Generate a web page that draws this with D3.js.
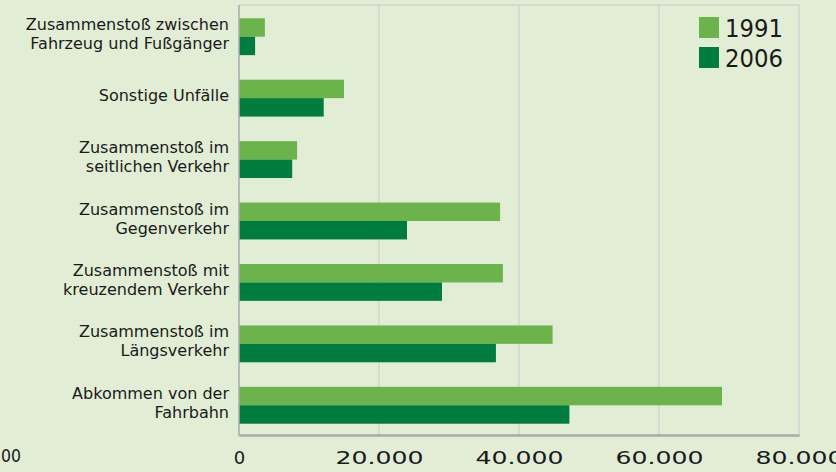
<!DOCTYPE html>
<html>
<head>
<meta charset="utf-8">
<script src="https://cdn.jsdelivr.net/npm/d3@7"></script>
<style>
  body { margin: 0; background: #e2edd5; }
  svg { display: block; }
</style>
</head>
<body>
<div id="chart"></div>
<script>
const svgWidth = 836;
const svgHeight = 472;

// data
const categories = [
  "Zusammenstoß zwischen\nFahrzeug und Fußgänger",
  "Sonstige Unfälle",
  "Zusammenstoß im\nseitlichen Verkehr",
  "Zusammenstoß im\nGegenverkehr",
  "Zusammenstoß mit\nkreuzendem Verkehr",
  "Zusammenstoß im\nLängsverkehr",
  "Abkommen von der\nFahrbahn"
];
const years = ["1991", "2006"];
const values1991 = [3700, 15000, 8300, 37300, 37700, 44800, 69000];
const values2006 = [2300, 12100, 7600, 24000, 29000, 36700, 47200];
const xTicks = [0, 20000, 40000, 60000, 80000];

const colors = {"1991": "#6db34b", "2006": "#007c3e"};

const plot = {left: 239, right: 799, top: 5, bottom: 435};

const svg = d3.select("#chart")
  .append("svg")
  .attr("width", svgWidth)
  .attr("height", svgHeight);

svg.append("rect")
  .attr("width", svgWidth)
  .attr("height", svgHeight)
  .attr("fill", "#e2edd5");

const x = d3.scaleLinear()
  .domain([0, 80000])
  .range([plot.left, plot.right]);

const y = d3.scaleBand()
  .domain(categories)
  .range([plot.top + 1, plot.bottom + 1])
  .paddingInner(0.4)
  .paddingOuter(0.2);

const ySub = d3.scaleBand()
  .domain(years)
  .range([0, y.bandwidth()]);

const fmt = d => d3.format(",")(d).replace(/,/g, ".");

// gridlines
svg.append("g")
  .selectAll("line")
  .data(xTicks.slice(1))
  .join("line")
  .attr("x1", d => x(d))
  .attr("x2", d => x(d))
  .attr("y1", plot.top)
  .attr("y2", plot.bottom + 2)
  .attr("stroke", "#d0d3d4")
  .attr("stroke-width", 1.5);

// top frame line
svg.append("line")
  .attr("x1", plot.left)
  .attr("x2", plot.right)
  .attr("y1", plot.top)
  .attr("y2", plot.top)
  .attr("stroke", "#d0d3d4")
  .attr("stroke-width", 1.5);

// bars
const rows = categories.map((c, i) => ({cat: c, vals: [
  {year: "1991", value: values1991[i]},
  {year: "2006", value: values2006[i]}
]}));

const groups = svg.append("g")
  .selectAll("g")
  .data(rows)
  .join("g")
  .attr("transform", d => `translate(0, ${y(d.cat)})`);

groups.selectAll("rect")
  .data(d => d.vals)
  .join("rect")
  .attr("x", x(0))
  .attr("y", d => ySub(d.year))
  .attr("width", d => x(d.value) - x(0))
  .attr("height", ySub.bandwidth())
  .attr("fill", d => colors[d.year]);

// axes lines
const bottomAxis = d3.axisBottom(x)
  .tickValues(xTicks)
  .tickSize(0)
  .tickPadding(16)
  .tickFormat(fmt);

const xAxis = svg.append("g")
  .attr("transform", `translate(0, ${plot.bottom})`)
  .call(bottomAxis);

xAxis.select(".domain")
  .attr("stroke", "#a9aaab")
  .attr("stroke-width", 2.5);

xAxis.selectAll("text")
  .attr("font-family", "DejaVu Sans")
  .attr("font-size", 18)
  .attr("fill", "#1a1a1a")
  .attr("textLength", d => d === 0 ? null : 88)
  .attr("lengthAdjust", "spacingAndGlyphs");

svg.append("line")
  .attr("x1", plot.left)
  .attr("x2", plot.left)
  .attr("y1", plot.top)
  .attr("y2", plot.bottom + 1)
  .attr("stroke", "#a9aaab")
  .attr("stroke-width", 1.5);

// leftover label of the neighbouring panel
svg.append("text")
  .attr("x", 1)
  .attr("y", 462)
  .attr("font-family", "DejaVu Sans")
  .attr("font-size", 18)
  .attr("fill", "#1a1a1a")
  .attr("textLength", 20)
  .attr("lengthAdjust", "spacingAndGlyphs")
  .text("00");

// category labels
const labels = svg.append("g")
  .selectAll("text")
  .data(categories)
  .join("text")
  .attr("text-anchor", "end")
  .attr("font-family", "DejaVu Sans")
  .attr("font-size", 16)
  .attr("fill", "#1a1a1a")
  .attr("transform", d => `translate(229, ${y(d) + y.bandwidth() / 2 - 2})`);

labels.each(function(d) {
  const lines = d.split("\n");
  const t = d3.select(this);
  lines.forEach((line, i) => {
    t.append("tspan")
      .attr("x", 0)
      .attr("y", (i - (lines.length - 1) / 2) * 19 + 5)
      .text(line);
  });
});

// legend
const legend = svg.append("g")
  .attr("transform", "translate(699, 17)");

legend.selectAll("rect")
  .data(years)
  .join("rect")
  .attr("x", 0)
  .attr("y", (d, i) => i * 30)
  .attr("width", 20)
  .attr("height", 21)
  .attr("fill", d => colors[d]);

legend.selectAll("text")
  .data(years)
  .join("text")
  .attr("x", 26)
  .attr("y", (d, i) => i * 30 + 20)
  .attr("font-family", "DejaVu Sans")
  .attr("font-size", 25)
  .attr("fill", "#1a1a1a")
  .attr("textLength", 58)
  .attr("lengthAdjust", "spacingAndGlyphs")
  .text(d => d);
</script>
</body>
</html>
